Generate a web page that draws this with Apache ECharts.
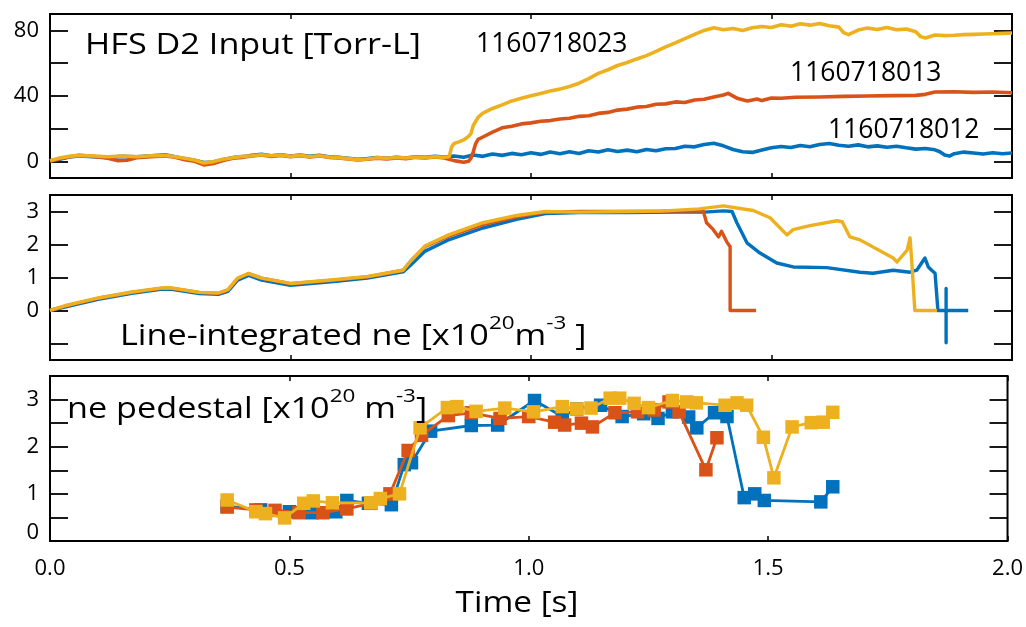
<!DOCTYPE html>
<html>
<head>
<meta charset="utf-8">
<script src="https://cdn.jsdelivr.net/npm/echarts@6/dist/echarts.min.js"></script>
<style>
  html, body { margin: 0; padding: 0; background: #fff; }
  #chart { width: 1026px; height: 627px; }
</style>
</head>
<body>
<div id="chart"></div>
<script>
// Shot numbers and line colours
const shots = ['1160718012', '1160718013', '1160718023'];
const colors = ['#0072BD', '#D95319', '#EDB120'];

// Panel 1: HFS D2 gas input [Torr-L] vs time [s]
const gas012 = [
  [0,0.5],[0.02,1.5],[0.04,2.8],[0.06,3.4],[0.09,3.0],[0.12,2.6],[0.15,3.2],[0.18,2.9],[0.21,3.5],[0.24,4.2],
  [0.26,3.0],[0.28,1.8],[0.30,0.8],[0.32,-0.6],[0.34,-0.2],[0.36,1.2],[0.38,2.4],[0.40,3.0],[0.42,3.8],[0.44,4.4],
  [0.46,3.6],[0.48,4.2],[0.50,3.4],[0.52,4.0],[0.54,3.2],[0.56,3.8],[0.58,3.0],[0.60,2.6],[0.62,2.0],[0.64,1.4],
  [0.66,1.8],[0.68,2.4],[0.70,2.0],[0.72,2.6],[0.74,2.2],[0.76,3.0],[0.78,2.6],[0.80,3.2],[0.82,2.8],[0.84,3.4],
  [0.86,2.6],[0.88,4.0],[0.90,3.2],[0.92,4.6],[0.94,3.8],[0.96,5.0],[0.98,4.2],[1.00,5.4],[1.02,4.4],[1.04,5.8],
  [1.06,4.8],[1.08,6.0],[1.10,5.0],[1.12,6.6],[1.14,5.8],[1.16,7.2],[1.18,6.2],[1.20,7.0],[1.22,6.0],[1.24,7.4],
  [1.26,6.6],[1.28,7.8],[1.30,8.0],[1.32,9.4],[1.34,9.0],[1.36,10.4],[1.38,11.2],[1.40,9.6],[1.42,7.4],[1.44,6.0],
  [1.46,5.6],[1.48,7.0],[1.50,8.4],[1.52,9.2],[1.54,8.6],[1.56,9.8],[1.58,9.0],[1.60,10.4],[1.62,11.0],[1.64,10.0],
  [1.66,9.4],[1.68,10.2],[1.70,9.0],[1.72,9.6],[1.74,8.8],[1.76,9.4],[1.78,8.4],[1.80,7.6],[1.82,8.0],[1.84,7.2],
  [1.85,6.0],[1.86,4.0],[1.87,3.4],[1.88,4.8],[1.90,5.8],[1.92,5.2],[1.94,4.6],[1.96,5.4],[1.98,4.8],[2.00,5.2]
];
const gas013 = [
  [0,0.2],[0.02,1.8],[0.04,3.0],[0.06,3.8],[0.09,3.2],[0.12,2.0],[0.14,0.6],[0.16,0.8],[0.18,2.4],[0.21,3.0],
  [0.24,3.4],[0.26,2.6],[0.28,1.2],[0.30,0.2],[0.32,-2.0],[0.34,-1.2],[0.36,0.6],[0.38,2.0],[0.40,2.6],[0.42,3.4],
  [0.44,4.0],[0.46,3.2],[0.48,3.8],[0.50,3.0],[0.52,3.6],[0.54,2.8],[0.56,3.4],[0.58,2.6],[0.60,2.2],[0.62,1.6],
  [0.64,1.0],[0.66,1.4],[0.68,2.0],[0.70,1.6],[0.72,2.2],[0.74,1.8],[0.76,2.6],[0.78,2.2],[0.80,2.8],[0.82,2.2],
  [0.84,0.6],[0.86,-0.4],[0.87,0.2],[0.875,2.0],[0.88,6.0],[0.885,11.0],[0.89,13.5],[0.90,15.0],[0.92,18.0],[0.94,20.6],
  [0.96,21.6],[0.98,23.0],[1.00,23.6],[1.02,24.6],[1.04,25.0],[1.06,26.0],[1.08,26.4],[1.10,27.6],[1.12,28.0],[1.14,29.4],
  [1.16,30.0],[1.18,31.4],[1.20,32.0],[1.22,33.2],[1.24,33.6],[1.26,35.0],[1.28,35.2],[1.30,36.4],[1.32,36.0],[1.34,37.6],
  [1.36,38.0],[1.38,39.4],[1.40,40.6],[1.41,41.6],[1.43,38.4],[1.45,37.0],[1.47,38.2],[1.48,37.2],[1.50,38.8],[1.52,38.6],
  [1.55,39.2],[1.60,39.4],[1.65,39.8],[1.70,40.0],[1.75,40.2],[1.80,40.4],[1.82,41.0],[1.84,42.4],[1.88,42.6],[1.92,42.2],
  [1.96,42.4],[2.00,42.0]
];
const gas023 = [
  [0,0.6],[0.02,2.2],[0.04,3.2],[0.06,3.8],[0.09,3.4],[0.12,3.0],[0.15,3.4],[0.18,3.0],[0.21,3.6],[0.24,3.8],
  [0.26,3.0],[0.28,2.0],[0.30,1.0],[0.32,-0.8],[0.34,0.0],[0.36,1.4],[0.38,2.4],[0.40,3.2],[0.42,3.6],[0.44,4.2],
  [0.46,3.6],[0.48,4.0],[0.50,3.2],[0.52,3.8],[0.54,3.0],[0.56,3.6],[0.58,2.8],[0.60,2.4],[0.62,1.8],[0.64,1.2],
  [0.66,1.6],[0.68,2.4],[0.70,2.0],[0.72,2.6],[0.74,2.2],[0.76,2.8],[0.78,2.4],[0.80,3.0],[0.82,2.6],[0.83,3.0],
  [0.835,9.0],[0.84,11.0],[0.85,12.0],[0.86,13.2],[0.87,15.4],[0.875,17.0],[0.88,22.0],[0.885,24.5],[0.89,27.0],[0.90,29.6],
  [0.92,32.4],[0.94,34.6],[0.96,37.0],[0.98,38.6],[1.00,40.2],[1.02,41.6],[1.04,43.0],[1.06,44.2],[1.08,45.8],[1.10,47.8],
  [1.12,50.6],[1.14,53.8],[1.16,56.0],[1.18,58.6],[1.20,60.4],[1.22,62.6],[1.24,64.6],[1.26,67.2],[1.28,70.0],[1.30,72.4],
  [1.32,75.0],[1.34,77.6],[1.36,80.0],[1.38,81.6],[1.40,80.4],[1.42,81.2],[1.44,80.0],[1.46,81.6],[1.48,82.4],[1.50,81.8],
  [1.52,83.4],[1.54,82.6],[1.56,84.0],[1.58,83.2],[1.60,84.2],[1.62,82.8],[1.64,82.0],[1.65,78.6],[1.66,77.4],[1.68,80.2],
  [1.70,81.4],[1.72,80.6],[1.74,81.8],[1.76,80.4],[1.78,80.8],[1.80,79.2],[1.81,76.2],[1.82,75.4],[1.84,77.2],[1.86,76.8],
  [1.88,77.0],[1.90,77.4],[1.92,77.6],[1.94,77.8],[1.96,78.0],[1.98,78.2],[2.00,78.4]
];

// Panel 2: line-integrated ne [1e20 m^-3]
const nl012 = [
  [0,0],[0.035,0.12],[0.1,0.34],[0.17,0.52],[0.23,0.64],[0.25,0.65],[0.31,0.51],[0.35,0.49],[0.37,0.58],[0.39,0.92],
  [0.413,1.06],[0.44,0.92],[0.5,0.76],[0.59,0.88],[0.66,0.98],[0.734,1.17],[0.75,1.38],[0.78,1.8],[0.83,2.15],[0.9,2.5],
  [0.97,2.76],[1.03,2.94],[1.1,2.97],[1.2,2.97],[1.3,2.98],[1.36,2.98],[1.4,3.02],[1.418,3.0],[1.428,2.66],[1.449,2.05],
  [1.476,1.74],[1.511,1.44],[1.545,1.32],[1.615,1.3],[1.684,1.16],[1.711,1.13],[1.753,1.22],[1.788,1.16],[1.802,1.22],[1.819,1.59],
  [1.826,1.32],[1.833,1.22],[1.84,1.13],[1.846,0],[1.863,0],[1.863,0.67],[1.863,-0.98],[1.863,0],[1.909,0]
];
const nl013 = [
  [0,0],[0.035,0.15],[0.1,0.37],[0.17,0.55],[0.23,0.67],[0.25,0.68],[0.31,0.55],[0.35,0.52],[0.37,0.62],[0.39,0.97],
  [0.413,1.12],[0.44,0.98],[0.5,0.81],[0.59,0.92],[0.66,1.02],[0.734,1.22],[0.75,1.5],[0.78,1.94],[0.83,2.26],[0.9,2.6],
  [0.97,2.84],[1.03,2.98],[1.1,3.0],[1.2,3.0],[1.3,3.01],[1.358,3.02],[1.365,2.66],[1.379,2.45],[1.39,2.23],[1.396,2.4],
  [1.407,2.08],[1.414,1.93],[1.414,0],[1.468,0]
];
const nl023 = [
  [0,0],[0.035,0.16],[0.1,0.38],[0.17,0.56],[0.23,0.68],[0.25,0.69],[0.31,0.55],[0.35,0.53],[0.37,0.63],[0.39,0.98],
  [0.413,1.12],[0.44,0.98],[0.5,0.82],[0.59,0.93],[0.66,1.03],[0.734,1.22],[0.75,1.5],[0.78,1.96],[0.83,2.3],[0.9,2.66],
  [0.97,2.88],[1.03,3.0],[1.1,2.98],[1.2,3.0],[1.27,3.01],[1.35,3.08],[1.4,3.17],[1.462,3.03],[1.497,2.81],[1.532,2.29],
  [1.545,2.45],[1.58,2.57],[1.636,2.72],[1.647,2.69],[1.663,2.23],[1.684,2.14],[1.753,1.59],[1.761,1.47],[1.782,1.83],[1.788,2.2],
  [1.792,1.4],[1.798,0],[1.844,0]
];

// Panel 3: pedestal ne [1e20 m^-3]
const ped012 = [
  [0.37,0.74],[0.44,0.66],[0.5,0.62],[0.547,0.6],[0.597,0.62],[0.62,0.86],[0.665,0.8],[0.713,0.77],[0.74,1.62],[0.755,1.66],
  [0.795,2.33],[0.88,2.45],[0.935,2.46],[1.012,2.98],[1.07,2.64],[1.1,2.8],[1.15,2.88],[1.195,2.64],[1.24,2.7],[1.27,2.6],
  [1.3,2.74],[1.334,2.63],[1.351,2.4],[1.388,2.72],[1.414,2.64],[1.45,0.92],[1.472,1.0],[1.492,0.86],[1.61,0.83],[1.635,1.15]
];
const ped013 = [
  [0.37,0.72],[0.43,0.66],[0.47,0.65],[0.52,0.6],[0.57,0.6],[0.62,0.68],[0.67,0.8],[0.71,1.0],[0.748,1.92],[0.776,2.24],
  [0.832,2.66],[0.88,2.72],[0.94,2.6],[1.0,2.64],[1.054,2.52],[1.075,2.46],[1.11,2.5],[1.133,2.42],[1.18,2.72],[1.227,2.74],
  [1.262,2.78],[1.293,2.95],[1.314,2.74],[1.37,1.51],[1.393,2.19]
];
const ped023 = [
  [0.37,0.87],[0.43,0.62],[0.45,0.58],[0.49,0.49],[0.53,0.8],[0.55,0.85],[0.59,0.81],[0.67,0.81],[0.69,0.9],[0.73,1.0],
  [0.773,2.4],[0.83,2.83],[0.85,2.85],[0.89,2.75],[0.95,2.82],[1.01,2.74],[1.07,2.85],[1.10,2.8],[1.13,2.82],[1.17,3.03],
  [1.19,3.03],[1.22,2.92],[1.25,2.83],[1.3,2.98],[1.33,2.95],[1.35,2.93],[1.41,2.88],[1.435,2.93],[1.455,2.88],[1.49,2.2],
  [1.512,1.34],[1.55,2.42],[1.59,2.51],[1.615,2.52],[1.635,2.73]
];

// Axis ticks and labels
const timeTicks = [0, 0.5, 1.0, 1.5, 2.0];
const gasTicks = [0, 20, 40, 60, 80];
const gasLabels = [0, 40, 80];
const nlTicks = [-1, 0, 1, 2, 3];
const nlLabels = [0, 1, 2, 3];
const pedTicks = [0, 0.5, 1, 1.5, 2, 2.5, 3];
const pedLabels = [0, 1, 2, 3];

const FONT = '"Open Sans", "Noto Sans", sans-serif';
const chart = echarts.init(document.getElementById('chart'), null, { renderer: 'canvas' });

const grids = [
  { left: 50, top: 14, width: 962, height: 164 },
  { left: 50, top: 195, width: 962, height: 165 },
  { left: 50, top: 376, width: 962, height: 165 }
].map(g => Object.assign(g, { show: true, borderColor: '#000', borderWidth: 2, backgroundColor: 'transparent', containLabel: false }));

const xAxes = [];
for (let i = 0; i < 3; i++) {
  ['bottom', 'top'].forEach(pos => {
    const isTimeLabels = (i === 2 && pos === 'bottom');
    xAxes.push({
      type: 'value', gridIndex: i, position: pos, min: 0, max: 2, interval: 0.5,
      axisLine: { show: false, onZero: false },
      axisTick: { show: true, inside: true, length: 5, lineStyle: { color: '#000', width: 1.5 }, customValues: timeTicks },
      axisLabel: {
        show: isTimeLabels, margin: 17, color: '#000', fontSize: 22, fontFamily: FONT,
        customValues: timeTicks, formatter: v => v.toFixed(1)
      },
      splitLine: { show: false }
    });
  });
}

function yPair(gridIndex, min, max, ticks, labels, zeroUp) {
  return ['left', 'right'].map(pos => ({
    type: 'value', gridIndex, position: pos, min, max,
    axisLine: { show: false, onZero: false },
    axisTick: { show: true, inside: true, length: 18, lineStyle: { color: '#000', width: 1.8 }, customValues: ticks },
    axisLabel: {
      show: pos === 'left', margin: 11, color: '#000', fontSize: 22, fontFamily: FONT,
      customValues: labels,
      formatter: v => (zeroUp && v === 0) ? '{z|0}' : String(v),
      rich: { z: { fontSize: 22, fontFamily: FONT, color: '#000', padding: [0, 0, 16, 0] } }
    },
    splitLine: { show: false }
  }));
}
const yAxes = [].concat(
  yPair(0, -10, 90, gasTicks, gasLabels, false),
  yPair(1, -1.5, 3.5, nlTicks, nlLabels, false),
  yPair(2, 0, 3.5, pedTicks, pedLabels, true)
);

function lineSeries(data, c, panel, width) {
  return {
    type: 'line', data, xAxisIndex: panel * 2, yAxisIndex: panel * 2,
    showSymbol: false, symbol: 'none',
    lineStyle: { color: colors[c], width, join: 'round' },
    animation: false, z: 3 + c
  };
}
function pedSeries(data, c) {
  return {
    type: 'line', data, xAxisIndex: 4, yAxisIndex: 4,
    symbol: 'rect', symbolSize: 13.5, showSymbol: true,
    itemStyle: { color: colors[c] },
    lineStyle: { color: colors[c], width: 2.8 },
    animation: false, z: 3 + c
  };
}

const series = [
  lineSeries(gas012, 0, 0, 3.6), lineSeries(gas013, 1, 0, 3.6), lineSeries(gas023, 2, 0, 3.6),
  lineSeries(nl012, 0, 1, 3.4), lineSeries(nl013, 1, 1, 3.4), lineSeries(nl023, 2, 1, 3.4),
  pedSeries(ped012, 0), pedSeries(ped013, 1), pedSeries(ped023, 2)
];

// Panel annotations; the typeface is widened horizontally to fit the labels' span
const STRETCH = 1.18;
// main text is pushed down inside its line box so the superscripts sit above it
const unitRich = {
  m: { fontSize: 29, fontFamily: FONT, fill: '#000', verticalAlign: 'top', padding: [8, 0, 0, 0] },
  sup: { fontSize: 19, fontFamily: FONT, fill: '#000', verticalAlign: 'top', padding: [0, 0, 0, 0] }
};
function label(x, y, text, size, opts) {
  opts = opts || {};
  return {
    type: 'text', x, y, z: 100, silent: true,
    scaleX: opts.scaleX || 1,
    style: {
      text, fontSize: size, fontFamily: FONT, fill: '#000',
      verticalAlign: 'middle', align: opts.align || 'left', rich: opts.rich
    }
  };
}

const graphic = [
  label(85, 46, 'HFS D2 Input [Torr-L]', 29, { scaleX: STRETCH }),
  label(476, 44, shots[2], 26.5),
  label(790, 73, shots[1], 26.5),
  label(828, 130, shots[0], 26.5),
  label(120, 333, '{m|Line-integrated ne [x10}{sup|20}{m|m}{sup|-3}{m| ]}', 29, { scaleX: STRETCH, rich: unitRich }),
  label(67, 406, '{m|ne pedestal [x10}{sup|20}{m| m}{sup|-3}{m|]}', 29, { scaleX: STRETCH, rich: unitRich }),
  label(517, 604, 'Time [s]', 29, { scaleX: 1.15, align: 'center' })
];

chart.setOption({
  animation: false,
  backgroundColor: '#fff',
  grid: grids,
  xAxis: xAxes,
  yAxis: yAxes,
  series,
  graphic
});
</script>
</body>
</html>
